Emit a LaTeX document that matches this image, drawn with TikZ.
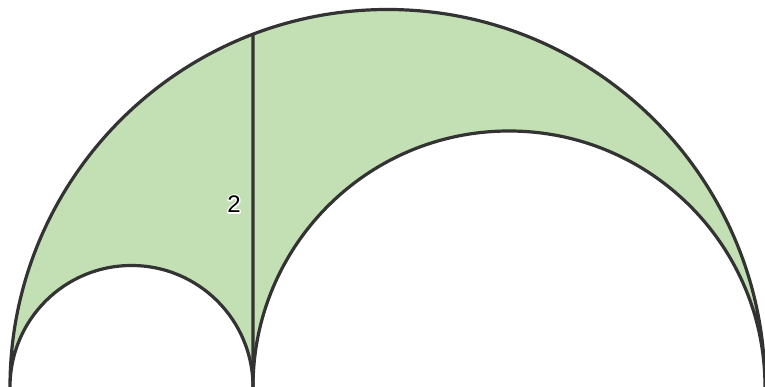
\documentclass[tikz,border=0pt]{standalone}
\usepackage{fontspec}
\setmainfont{Liberation Sans}
\usetikzlibrary{calc}
\definecolor{arbfill}{HTML}{C2E0B4}
\definecolor{arbline}{HTML}{333333}
\newcommand{\halotext}[1]{\rlap{\special{pdf:code q 1 Tr 3 w 1 j 1 1 1 RG}#1\special{pdf:code Q}}#1}
\tikzset{
  arbedge/.style={draw=arbline, line width=3.2pt, line join=round},
  lab/.style={font=\fontsize{24}{24}\selectfont, text=black, inner sep=0pt}
}
\begin{document}
\begin{tikzpicture}[x=1pt,y=1pt]
\useasboundingbox (0,0) rectangle (765,387);
\clip (0,0) rectangle (765,387);
\coordinate (L) at (10,0);
\coordinate (M) at (253,0);
\coordinate (R) at (765,0);
\coordinate (C) at (387.5,0);
\coordinate (T) at ($(C)+(110.87:377.5)$);
\path[arbedge, fill=arbfill] (L) arc[start angle=180, end angle=0, radius=377.5]
  arc[start angle=0, end angle=180, radius=256]
  arc[start angle=0, end angle=180, radius=121.5] -- cycle;
\draw[arbedge] (M) -- (T);
\node[lab] (h) at (234,183) {\halotext{2}};
\end{tikzpicture}
\end{document}
